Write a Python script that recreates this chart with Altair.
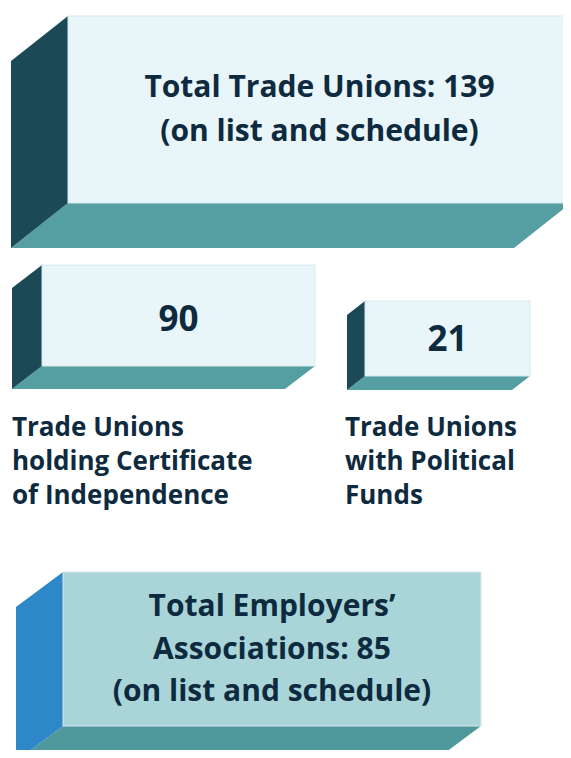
import altair as alt
import pandas as pd

# ---- content ----
box_names = ["trade_unions", "certified", "political", "employers"]
box_values = [139, 90, 21, 85]
box_texts = {
    "trade_unions": ["Total Trade Unions: 139", "(on list and schedule)"],
    "certified": ["90"],
    "political": ["21"],
    "employers": ["Total Employers\u2019", "Associations: 85", "(on list and schedule)"],
}
caption_left = ["Trade Unions", "holding Certificate", "of Independence"]
caption_right = ["Trade Unions", "with Political", "Funds"]

# ---- layout (page pixel coordinates) ----
layout = {
    "trade_unions": dict(x0=68, x1=571, y0=16, y1=203, dx=57, dy=45),
    "certified": dict(x0=42, x1=315, y0=265, y1=366, dx=30, dy=23),
    "political": dict(x0=365, x1=530, y0=301, y1=376, dx=18, dy=14),
    "employers": dict(x0=63, x1=481, y0=572, y1=726, dx=47, dy=35),
}
colors = {
    "trade_unions": ("#e8f5f9", "#1b4a56", "#559ea1"),
    "certified": ("#e8f5f9", "#1b4a56", "#559ea1"),
    "political": ("#e8f5f9", "#1b4a56", "#559ea1"),
    "employers": ("#a9d5d9", "#2e87c8", "#4f999c"),
}
text_line_y = {
    "trade_unions": [88, 132],
    "certified": [320],
    "political": [340],
    "employers": [607, 650, 692],
}
text_size = {"trade_unions": 30, "certified": 35, "political": 35, "employers": 30}
caption_y = [428, 462, 496]
caption_x = {"left": 12, "right": 345}

INK = "#0e2a3f"
FONT = "Open Sans"

front_rows, left_rows, bottom_rows, text_rows, cap_rows = [], [], [], [], []
for name, val in zip(box_names, box_values):
    g = layout[name]
    fc, lc, bc = colors[name]
    front_rows.append(dict(box=name, value=val, x=g["x0"], x2=g["x1"], y=g["y0"], y2=g["y1"], c=fc))
    left_rows.append(dict(box=name, x=g["x0"] - g["dx"], y=g["y0"] + g["dy"], y2=g["y1"] + g["dy"], c=lc))
    left_rows.append(dict(box=name, x=g["x0"], y=g["y0"], y2=g["y1"], c=lc))
    bottom_rows.append(dict(box=name, y=g["y1"], x=g["x0"], x2=g["x1"], c=bc))
    bottom_rows.append(dict(box=name, y=g["y1"] + g["dy"], x=g["x0"] - g["dx"], x2=g["x1"] - g["dx"], c=bc))
    cx = (g["x0"] + g["x1"]) / 2
    for line, ly in zip(box_texts[name], text_line_y[name]):
        text_rows.append(dict(box=name, x=cx, y=ly, t=line, s=text_size[name]))

for line, ly in zip(caption_left, caption_y):
    cap_rows.append(dict(x=caption_x["left"], y=ly, t=line))
for line, ly in zip(caption_right, caption_y):
    cap_rows.append(dict(x=caption_x["right"], y=ly, t=line))

W, H = 555, 742
xs = alt.Scale(domain=[8, 8 + W], range=[0, W])
ys = alt.Scale(domain=[8, 8 + H], reverse=True)
noax = None

front = alt.Chart(pd.DataFrame(front_rows)).mark_rect(stroke="#d6e9ee", strokeWidth=1).encode(
    x=alt.X("x:Q", scale=xs, axis=noax),
    x2="x2:Q",
    y=alt.Y("y:Q", scale=ys, axis=noax),
    y2="y2:Q",
    fill=alt.Fill("c:N", scale=None),
)

left = alt.Chart(pd.DataFrame(left_rows)).mark_area(orient="vertical").encode(
    x=alt.X("x:Q", scale=xs, axis=noax),
    y=alt.Y("y:Q", scale=ys, axis=noax),
    y2="y2:Q",
    detail="box:N",
    fill=alt.Fill("c:N", scale=None),
)

bottom = alt.Chart(pd.DataFrame(bottom_rows)).mark_area(orient="horizontal").encode(
    y=alt.Y("y:Q", scale=ys, axis=noax),
    x=alt.X("x:Q", scale=xs, axis=noax),
    x2="x2:Q",
    detail="box:N",
    fill=alt.Fill("c:N", scale=None),
)

texts = alt.Chart(pd.DataFrame(text_rows)).mark_text(
    font=FONT, fontWeight="bold", color=INK, align="center", baseline="middle"
).encode(
    x=alt.X("x:Q", scale=xs, axis=noax),
    y=alt.Y("y:Q", scale=ys, axis=noax),
    text="t:N",
    size=alt.Size("s:Q", scale=None),
)

caps = alt.Chart(pd.DataFrame(cap_rows)).mark_text(
    font=FONT, fontWeight="bold", color=INK, align="left", baseline="middle", fontSize=26
).encode(
    x=alt.X("x:Q", scale=xs, axis=noax),
    y=alt.Y("y:Q", scale=ys, axis=noax),
    text="t:N",
)

chart = (
    alt.layer(bottom, left, front, texts, caps)
    .properties(width=W, height=H, autosize=alt.AutoSizeParams(type="none"), padding=0, background="white")
    .configure_view(stroke=None, clip=True)
)

chart.save("out.html", embed_options={"renderer": "svg", "actions": False})
